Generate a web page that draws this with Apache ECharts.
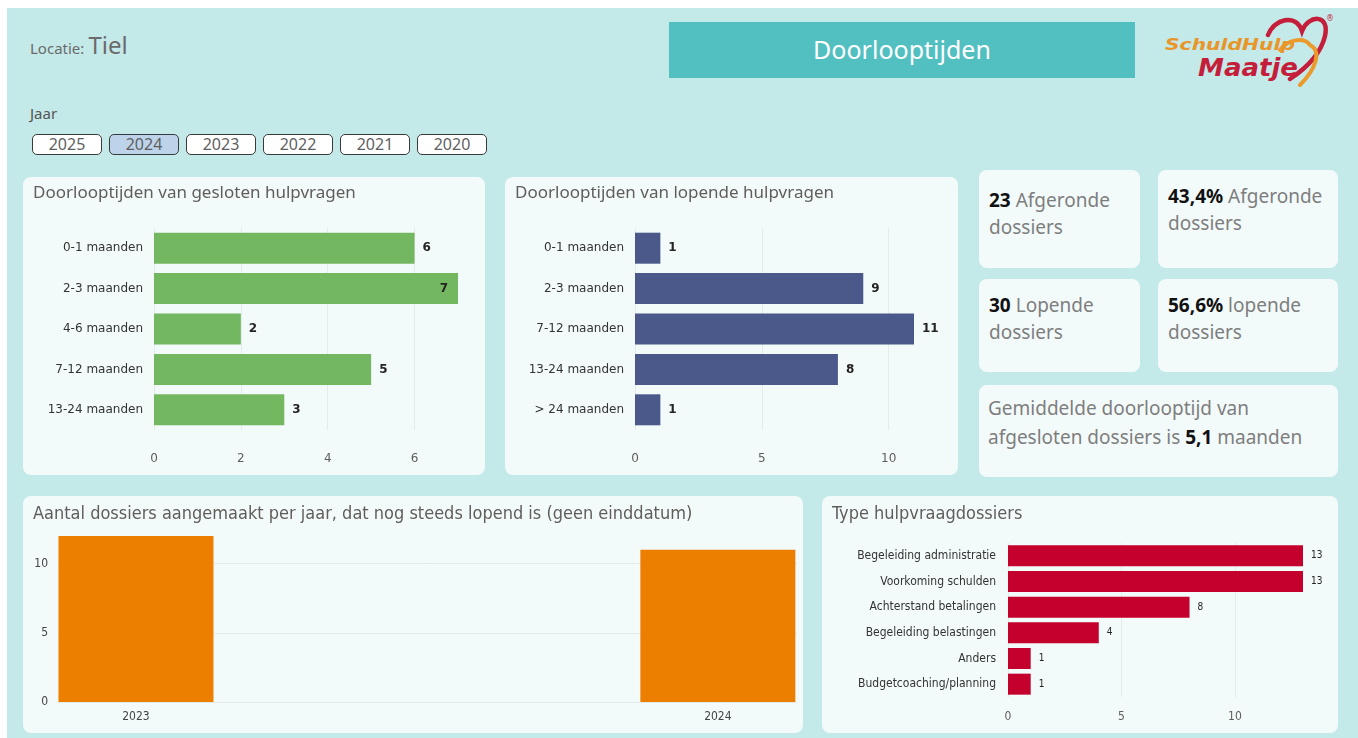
<!DOCTYPE html>
<html>
<head>
  <meta charset="UTF-8">
  <title>Doorlooptijden</title>
  <script src="https://cdn.jsdelivr.net/npm/echarts@6/dist/echarts.min.js"></script>
  <style>
    body { margin: 0; width: 1358px; height: 738px; overflow: hidden; background: #fff; font-family: "Noto Sans", "Open Sans", sans-serif; }
    .abs { position: absolute; }
    .page { position: absolute; left: 7px; top: 8px; width: 1351px; height: 730px; background: #c4e9e9; }
    .card { position: absolute; background: #f3fafa; border-radius: 8px; }
    .chart { position: absolute; left: 0; top: 0; width: 100%; height: 100%; }
    .ctitle { position: absolute; left: 10px; font-size: 17px; line-height: 22px; color: #605e5c; white-space: nowrap; z-index: 2; }
    .cond { font-family: "DejaVu Sans Condensed", "DejaVu Sans", sans-serif; font-stretch: condensed; font-size: 18px; }
    .btn { position: absolute; top: 134px; width: 68px; height: 19px; border: 1.5px solid #3a3a3a; border-radius: 5px; background: #fff;
           font-size: 16px; line-height: 19px; text-align: center; color: #5f5f5f; }
    .btn.on { background: #bcd3ea; }
    .kpi { position: absolute; left: 10px; font-size: 19px; line-height: 27px; color: #7e7e7e; white-space: nowrap; }
    .kpi b { color: #111; }
  </style>
</head>
<body>
<div class="page"></div>

<div class="abs" style="left:30px;top:28px;color:#6b6b6b;white-space:nowrap;">
  <span style="font-size:15px;">Locatie:</span> <span style="font-size:24px;">Tiel</span>
</div>
<div class="abs" style="left:30px;top:103px;font-size:15px;color:#555;">Jaar</div>
<div id="years"></div>

<div class="abs" style="left:669px;top:22px;width:466px;height:56px;background:#52bfc1;color:#fff;font-size:25px;line-height:54px;text-align:center;">Doorlooptijden</div>

<svg class="abs" style="left:1150px;top:5px;" width="200" height="90">
  <path d="M118,30 C124,14 146,8 152,26 C158,10 180,8 175,31 C171,48 158,62 140,74" fill="none" stroke="#c41e3a" stroke-width="4.5" stroke-linecap="round"/>
  <path d="M130,45 C138,34 154,32 160,40 C172,46 166,64 150,80" fill="none" stroke="#eb9a2c" stroke-width="4" stroke-linecap="round"/>
  <text x="15" y="45" font-family="DejaVu Sans" font-weight="bold" font-style="italic" font-size="16" fill="#e8962a" textLength="130" lengthAdjust="spacingAndGlyphs">SchuldHulp</text>
  <text x="48" y="71" font-family="DejaVu Sans" font-weight="bold" font-style="italic" font-size="24" fill="#c41e3a" textLength="100" lengthAdjust="spacingAndGlyphs">Maatje</text>
  <text x="176" y="16" font-family="DejaVu Sans" font-size="8" fill="#c41e3a">®</text>
</svg>

<div class="card" style="left:23px;top:177px;width:462px;height:298px;">
  <div class="ctitle" style="top:4px;">Doorlooptijden van gesloten hulpvragen</div>
  <div class="chart" id="c1"></div>
</div>
<div class="card" style="left:505px;top:177px;width:453px;height:298px;">
  <div class="ctitle" style="top:4px;">Doorlooptijden van lopende hulpvragen</div>
  <div class="chart" id="c2"></div>
</div>

<div class="card" style="left:979px;top:170px;width:161px;height:98px;">
  <div class="kpi" style="top:17px;"><b>23</b> Afgeronde<br>dossiers</div>
</div>
<div class="card" style="left:1158px;top:170px;width:180px;height:98px;">
  <div class="kpi" style="top:13px;"><b>43,4%</b> Afgeronde<br>dossiers</div>
</div>
<div class="card" style="left:979px;top:279px;width:161px;height:93px;">
  <div class="kpi" style="top:13px;"><b>30</b> Lopende<br>dossiers</div>
</div>
<div class="card" style="left:1158px;top:279px;width:180px;height:93px;">
  <div class="kpi" style="top:13px;"><b>56,6%</b> lopende<br>dossiers</div>
</div>
<div class="card" style="left:979px;top:385px;width:359px;height:92px;">
  <div class="kpi" style="left:9px;top:9px;line-height:29px;">Gemiddelde doorlooptijd van<br>afgesloten dossiers is <b>5,1</b> maanden</div>
</div>

<div class="card" style="left:23px;top:496px;width:780px;height:237px;">
  <div class="ctitle cond" style="top:6px;">Aantal dossiers aangemaakt per jaar, dat nog steeds lopend is (geen einddatum)</div>
  <div class="chart" id="c3"></div>
</div>
<div class="card" style="left:822px;top:496px;width:516px;height:237px;">
  <div class="ctitle cond" style="top:6px;">Type hulpvraagdossiers</div>
  <div class="chart" id="c4"></div>
</div>

<script type="text/javascript">
  var yearButtons = ['2025', '2024', '2023', '2022', '2021', '2020'];
  var selectedYear = '2024';

  var geslotenCats = ['0-1 maanden', '2-3 maanden', '4-6 maanden', '7-12 maanden', '13-24 maanden'];
  var geslotenVals = [6, 7, 2, 5, 3];

  var lopendCats = ['0-1 maanden', '2-3 maanden', '7-12 maanden', '13-24 maanden', '> 24 maanden'];
  var lopendVals = [1, 9, 11, 8, 1];

  var aangemaaktYears = [2023, 2024];
  var aangemaaktVals = [12, 11];

  var typeCats = ['Begeleiding administratie', 'Voorkoming schulden', 'Achterstand betalingen',
    'Begeleiding belastingen', 'Anders', 'Budgetcoaching/planning'];
  var typeVals = [13, 13, 8, 4, 1, 1];

  // year slicer buttons
  var yb = document.getElementById('years');
  yearButtons.forEach(function (y, i) {
    var d = document.createElement('div');
    d.className = 'btn' + (y === selectedYear ? ' on' : '');
    d.style.left = (32 + i * 77) + 'px';
    d.textContent = y;
    yb.appendChild(d);
  });

  var DJ = 'DejaVu Sans';
  var DJC = '"DejaVu Sans Condensed", "DejaVu Sans"';
  var gridColor = '#e3ebeb';

  function hbarOption(cats, vals, color, o) {
    var maxV = Math.max.apply(null, vals);
    return {
      animation: false,
      grid: o.grid,
      xAxis: {
        type: 'value', min: 0, max: function (v) { return v.max; }, interval: o.interval,
        axisLine: {show: false}, axisTick: {show: false},
        axisLabel: {showMaxLabel: false, margin: o.xMargin, color: '#605e5c', fontFamily: o.font, fontSize: 12},
        splitLine: {showMaxLine: false, lineStyle: {color: gridColor}}
      },
      yAxis: {
        type: 'category', data: cats, inverse: true,
        axisLine: {show: false}, axisTick: {show: false},
        axisLabel: {margin: o.yMargin, color: '#333', fontFamily: o.font, fontSize: 12}
      },
      series: [{
        type: 'bar', barWidth: o.barWidth,
        itemStyle: {color: color},
        label: {show: true, position: 'right', distance: o.labelDist, color: '#252423',
          fontFamily: o.font, fontSize: o.labelSize, fontWeight: o.labelWeight},
        data: vals.map(function (v) {
          // the longest bar of the first chart has its label inside the bar end
          if (o.insideMax && v === maxV) {
            return {value: v, label: {position: 'insideRight', distance: 10}};
          }
          return v;
        })
      }]
    };
  }

  var c1 = echarts.init(document.getElementById('c1'));
  c1.setOption(hbarOption(geslotenCats, geslotenVals, '#73b761', {
    grid: {left: 131, right: 27, top: 51, bottom: 45},
    interval: 2, xMargin: 23, yMargin: 11, barWidth: 31, labelDist: 8,
    font: DJ, labelSize: 12, labelWeight: 'bold', insideMax: true
  }));

  var c2 = echarts.init(document.getElementById('c2'));
  c2.setOption(hbarOption(lopendCats, lopendVals, '#4a588a', {
    grid: {left: 130, right: 44, top: 51, bottom: 45},
    interval: 5, xMargin: 23, yMargin: 11, barWidth: 31, labelDist: 8,
    font: DJ, labelSize: 12, labelWeight: 'bold'
  }));

  var c4 = echarts.init(document.getElementById('c4'));
  c4.setOption(hbarOption(typeCats, typeVals, '#c4002c', {
    grid: {left: 186, right: 35, top: 47, bottom: 36},
    interval: 5, xMargin: 14, yMargin: 12, barWidth: 21, labelDist: 8,
    font: DJC, labelSize: 10, labelWeight: 'normal'
  }));

  // years sit on a value axis, so the two bars land near the card edges like the original
  var c3 = echarts.init(document.getElementById('c3'));
  c3.setOption({
    animation: false,
    grid: {left: 35, right: 6, top: 40, bottom: 31},
    xAxis: {
      type: 'value', min: 2022.866, max: 2024.136,
      axisLine: {show: false}, axisTick: {show: false}, splitLine: {show: false},
      axisLabel: {customValues: aangemaaktYears, margin: 9, color: '#444', fontFamily: DJC, fontSize: 12,
        formatter: function (v) { return String(v); }}
    },
    yAxis: {
      type: 'value', min: 0, max: function (v) { return v.max; }, interval: 5,
      axisLine: {show: false}, axisTick: {show: false},
      axisLabel: {showMaxLabel: false, margin: 10, color: '#444', fontFamily: DJC, fontSize: 12},
      splitLine: {showMaxLine: false, lineStyle: {color: gridColor}}
    },
    series: [{
      type: 'bar', barWidth: 155,
      itemStyle: {color: '#ec7f00'},
      data: aangemaaktYears.map(function (y, i) { return [y, aangemaaktVals[i]]; })
    }]
  });
</script>
</body>
</html>
